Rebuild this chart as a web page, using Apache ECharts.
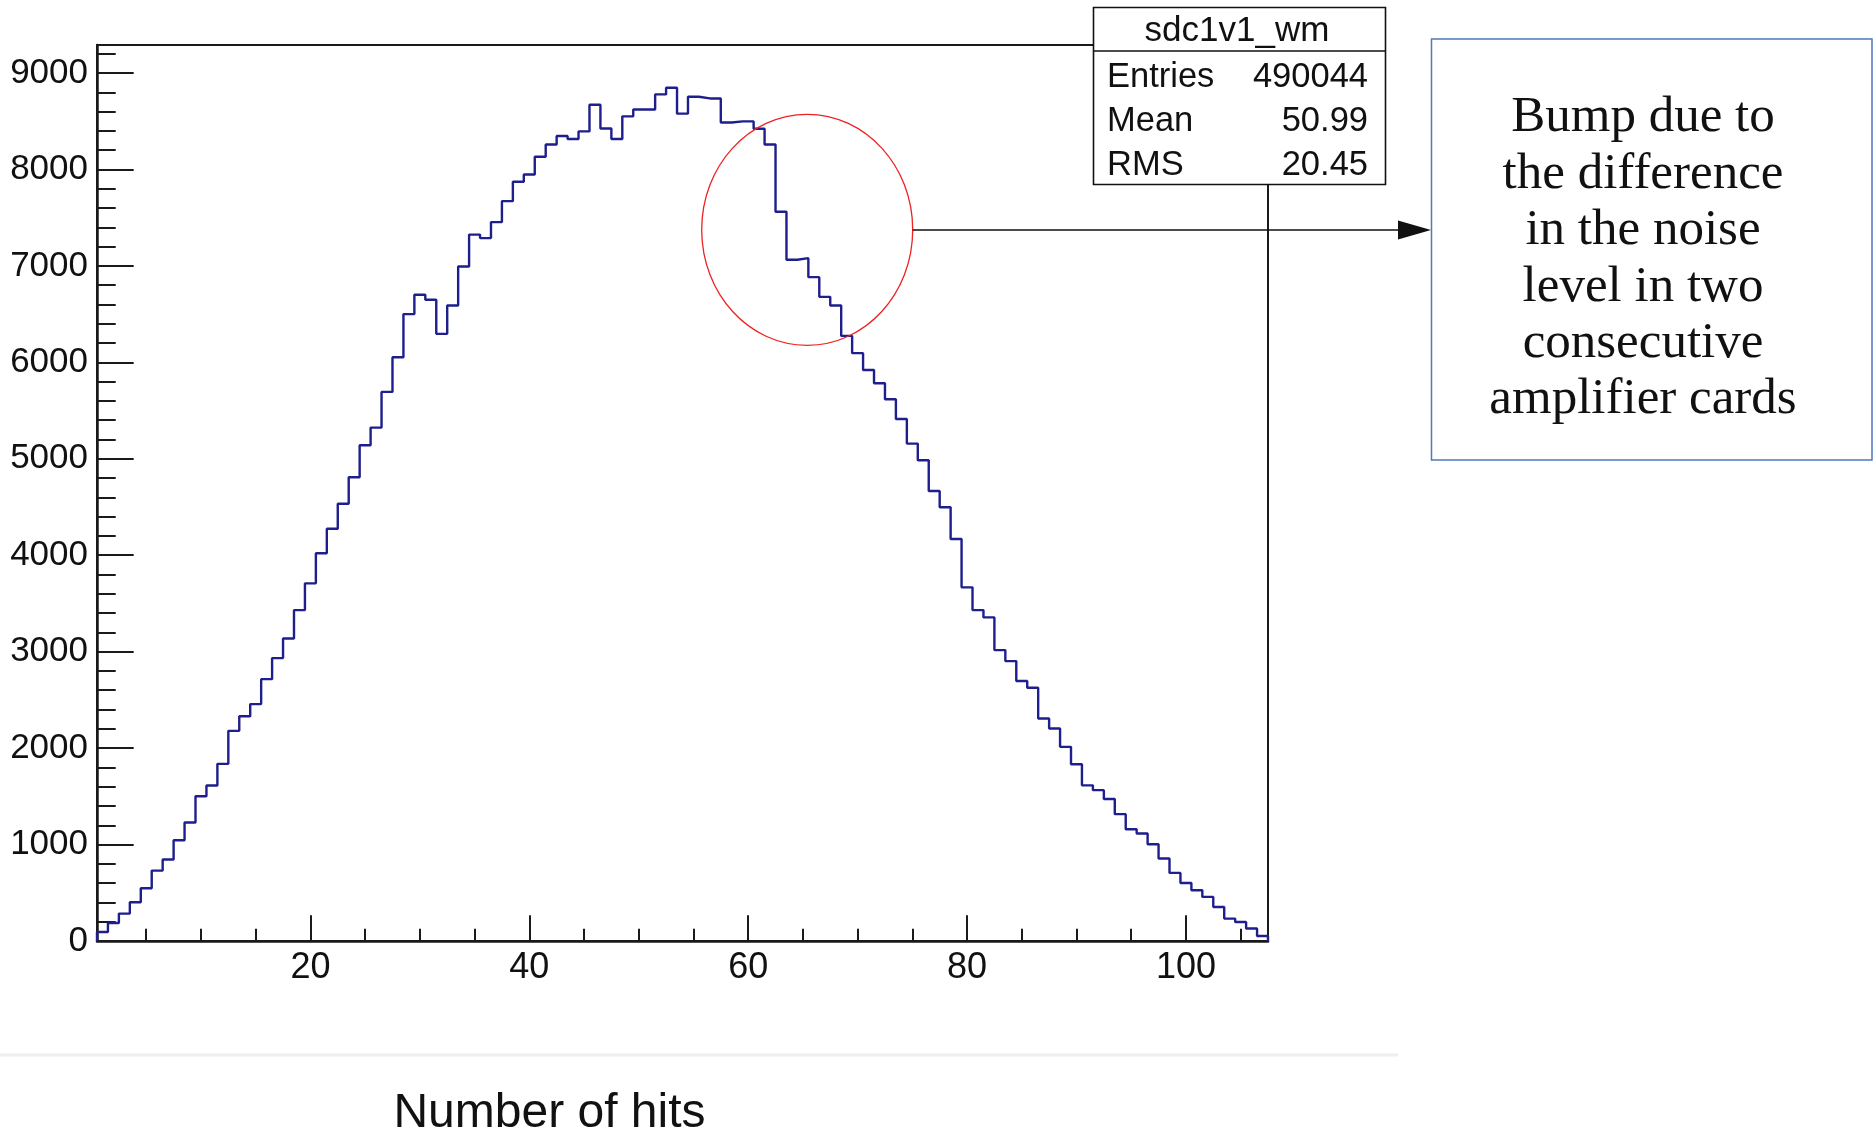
<!DOCTYPE html>
<html>
<head>
<meta charset="utf-8">
<style>
  html, body { margin: 0; padding: 0; background: #fff; }
  #chart { width: 1873px; height: 1134px; }
</style>
<script src="https://cdn.jsdelivr.net/npm/echarts@6/dist/echarts.min.js"></script>
</head>
<body>
<div id="chart"></div>
<script>
// ---- data ----
const binCenters = Array.from({ length: 107 }, (_, i) => i + 1);
const counts = [
  93, 187, 284, 401, 547, 730, 845, 1045, 1228, 1501,
  1612, 1837, 2179, 2331, 2456, 2715, 2933, 3137, 3431, 3708,
  4020, 4275, 4534, 4808, 5140, 5323, 5693, 6053, 6500, 6700,
  6648, 6295, 6589, 6993, 7324, 7288, 7454, 7671, 7872, 7948,
  8131, 8259, 8346, 8315, 8394, 8671, 8425, 8315, 8550, 8622,
  8622, 8778, 8847, 8578, 8754, 8736, 8736, 8487, 8498, 8498,
  8422, 8259, 7561, 7063, 7080, 6883, 6679, 6589, 6274, 6095,
  5921, 5783, 5617, 5412, 5157, 4985, 4666, 4497, 4168, 3667,
  3431, 3355, 3016, 2902, 2695, 2625, 2307, 2204, 2013, 1832,
  1614, 1564, 1472, 1315, 1159, 1114, 1003, 855, 706, 602,
  526, 457, 353, 232, 197, 129, 52
];
const xMajorTicks = [20, 40, 60, 80, 100];
const xMinorTicks = [5, 10, 15, 25, 30, 35, 45, 50, 55, 65, 70, 75, 85, 90, 95, 105];
const yMajorTicks = [0, 1000, 2000, 3000, 4000, 5000, 6000, 7000, 8000, 9000];
const yMinorTicks = [200, 400, 600, 800, 1200, 1400, 1600, 1800, 2200, 2400, 2600, 2800,
  3200, 3400, 3600, 3800, 4200, 4400, 4600, 4800, 5200, 5400, 5600, 5800,
  6200, 6400, 6600, 6800, 7200, 7400, 7600, 7800, 8200, 8400, 8600, 8800, 9200];
const statsTitle = 'sdc1v1_wm';
const statsRows = [['Entries', '490044'], ['Mean', '50.99'], ['RMS', '20.45']];
const xTitle = 'Number of hits';
const noteLines = ['Bump due to', 'the difference', 'in the noise', 'level in two', 'consecutive', 'amplifier cards'];

// histogram outline: step line through bin upper edges
const binWidth = 1;
const stepData = [[binCenters[0] - binWidth / 2, 0]];
binCenters.forEach((c, i) => stepData.push([c + binWidth / 2, counts[i]]));
stepData.push([binCenters[binCenters.length - 1] + binWidth / 2, 0]);

const FONT = 'Liberation Sans';
const AX = '#1a1a1a';

const chart = echarts.init(document.getElementById('chart'), null, { renderer: 'canvas' });

const graphics = [];
// stats box
graphics.push({
  type: 'rect', z: 100,
  shape: { x: 1093.5, y: 7.5, width: 292, height: 177 },
  style: { fill: '#fff', stroke: '#111', lineWidth: 1.6 }
});
graphics.push({
  type: 'line', z: 101,
  shape: { x1: 1093.5, y1: 51, x2: 1385.5, y2: 51 },
  style: { stroke: '#111', lineWidth: 1.6 }
});
graphics.push({
  type: 'text', z: 102, x: 1237, y: 31,
  style: { text: statsTitle, font: '35px "' + FONT + '"', fill: '#111', align: 'center', verticalAlign: 'middle' }
});
statsRows.forEach((r, k) => {
  const yy = 77.5 + k * 44;
  graphics.push({ type: 'text', z: 102, x: 1107, y: yy,
    style: { text: r[0], font: '34.5px "' + FONT + '"', fill: '#111', align: 'left', verticalAlign: 'middle' } });
  graphics.push({ type: 'text', z: 102, x: 1368, y: yy,
    style: { text: r[1], font: '34.5px "' + FONT + '"', fill: '#111', align: 'right', verticalAlign: 'middle' } });
});
// red ellipse around the bump
graphics.push({
  type: 'ellipse', z: 90,
  shape: { cx: 807.2, cy: 229.8, rx: 105.5, ry: 115.5 },
  style: { fill: null, stroke: '#ee2222', lineWidth: 1.3 }
});
// arrow
graphics.push({
  type: 'line', z: 90,
  shape: { x1: 912.7, y1: 230, x2: 1400, y2: 230 },
  style: { stroke: '#111', lineWidth: 1.3 }
});
graphics.push({
  type: 'polygon', z: 90,
  shape: { points: [[1431, 230], [1398, 220.5], [1398, 239.5]] },
  style: { fill: '#111' }
});
// note box
graphics.push({
  type: 'rect', z: 90,
  shape: { x: 1431.5, y: 39, width: 440.5, height: 421 },
  style: { fill: '#fff', stroke: '#4f79bd', lineWidth: 1.5 }
});
noteLines.forEach((t, k) => {
  graphics.push({ type: 'text', z: 91, x: 1643, y: 118 + k * 56.4,
    style: { text: t, font: '51px "Liberation Serif"', fill: '#111', align: 'center', verticalAlign: 'middle' } });
});
// separator line and x-axis title
graphics.push({
  type: 'line', z: 5,
  shape: { x1: 0, y1: 1055, x2: 1398, y2: 1055 },
  style: { stroke: '#eeeeee', lineWidth: 3 }
});
graphics.push({
  type: 'text', z: 5, x: 549.5, y: 1113.5,
  style: { text: xTitle, font: '48px "' + FONT + '"', fill: '#111', align: 'center', verticalAlign: 'middle' }
});

const plainNum = v => String(v);

const option = {
  animation: false,
  backgroundColor: '#fff',
  grid: {
    left: 97, right: 605, top: 45, bottom: 193,
    show: true, borderColor: AX, borderWidth: 2, backgroundColor: 'transparent'
  },
  xAxis: [
    {
      type: 'value', min: 0.5, max: 107.5, position: 'bottom',
      axisLine: { show: true, lineStyle: { color: AX, width: 2.5 } },
      axisTick: { show: true, inside: true, length: 25.7, customValues: xMajorTicks, lineStyle: { color: AX, width: 2 } },
      axisLabel: { show: true, customValues: xMajorTicks, formatter: plainNum, fontSize: 36, fontFamily: FONT, color: '#111', margin: 9 },
      splitLine: { show: false }
    },
    {
      type: 'value', min: 0.5, max: 107.5, position: 'bottom', offset: 0,
      axisLine: { show: false },
      axisTick: { show: true, inside: true, length: 12.3, customValues: xMinorTicks, lineStyle: { color: AX, width: 2 } },
      axisLabel: { show: false },
      splitLine: { show: false }
    }
  ],
  yAxis: [
    {
      type: 'value', min: 0, max: 9290, position: 'left',
      axisLine: { show: true, lineStyle: { color: AX, width: 2.5 } },
      axisTick: { show: true, inside: true, length: 36.7, customValues: yMajorTicks, lineStyle: { color: AX, width: 2 } },
      axisLabel: { show: true, customValues: yMajorTicks, formatter: plainNum, fontSize: 35, fontFamily: FONT, color: '#111', margin: 9 },
      splitLine: { show: false }
    },
    {
      type: 'value', min: 0, max: 9290, position: 'left', offset: 0,
      axisLine: { show: false },
      axisTick: { show: true, inside: true, length: 18.7, customValues: yMinorTicks, lineStyle: { color: AX, width: 2 } },
      axisLabel: { show: false },
      splitLine: { show: false }
    }
  ],
  series: [
    {
      type: 'line', name: 'sdc1v1_wm',
      xAxisIndex: 0, yAxisIndex: 0,
      data: stepData,
      step: 'start',
      showSymbol: false, symbol: 'none',
      lineStyle: { color: '#1e1e8c', width: 2.4 },
      z: 10
    }
  ],
  graphic: graphics
};
chart.setOption(option);
</script>
</body>
</html>
